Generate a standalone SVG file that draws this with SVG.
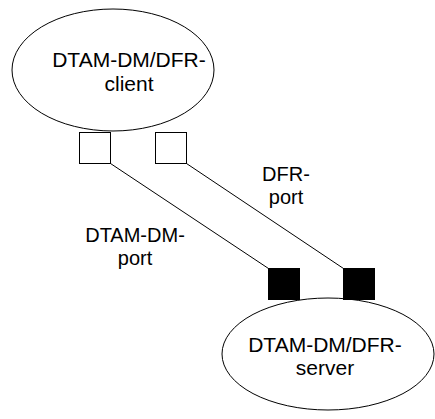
<svg xmlns="http://www.w3.org/2000/svg" width="435" height="419" viewBox="0 0 435 419">
<style>
.shape{fill:#fff;stroke:#000;stroke-width:1}
.port{fill:#fff;stroke:#000;stroke-width:1}
.bport{fill:#000;stroke:#000;stroke-width:1}
.conn{stroke:#000;stroke-width:1;fill:none}
text{font-family:"Liberation Sans",Arial,sans-serif;font-size:20px;fill:#000;text-anchor:middle}
.big{font-size:21px}
</style>
<rect width="435" height="419" fill="#fff"/>
<g id="client">
<ellipse class="shape" cx="113" cy="70" rx="101" ry="61"/>
<text class="big" x="129" y="67">DTAM-DM/DFR-</text>
<text class="big" x="129" y="91">client</text>
</g>
<g id="server">
<ellipse class="shape" cx="328" cy="354" rx="106" ry="56"/>
<text class="big" x="325" y="352">DTAM-DM/DFR-</text>
<text class="big" x="325" y="375">server</text>
</g>
<g id="client-port-dtam">
<rect class="port" x="79.5" y="132.5" width="31" height="31"/>
</g>
<g id="client-port-dfr">
<rect class="port" x="155.5" y="132.5" width="31" height="31"/>
</g>
<g id="server-port-dtam">
<rect class="bport" x="268.5" y="268.5" width="31" height="31"/>
</g>
<g id="server-port-dfr">
<rect class="bport" x="343.5" y="268.5" width="31" height="31"/>
</g>
<g id="connectors">
<line class="conn" x1="110.5" y1="163.5" x2="268.5" y2="268.5"/>
<line class="conn" x1="186.5" y1="163.5" x2="343.5" y2="268.5"/>
<text x="135" y="242">DTAM-DM-</text>
<text x="135" y="265">port</text>
<text x="286" y="181">DFR-</text>
<text x="286" y="204">port</text>
</g>
</svg>
